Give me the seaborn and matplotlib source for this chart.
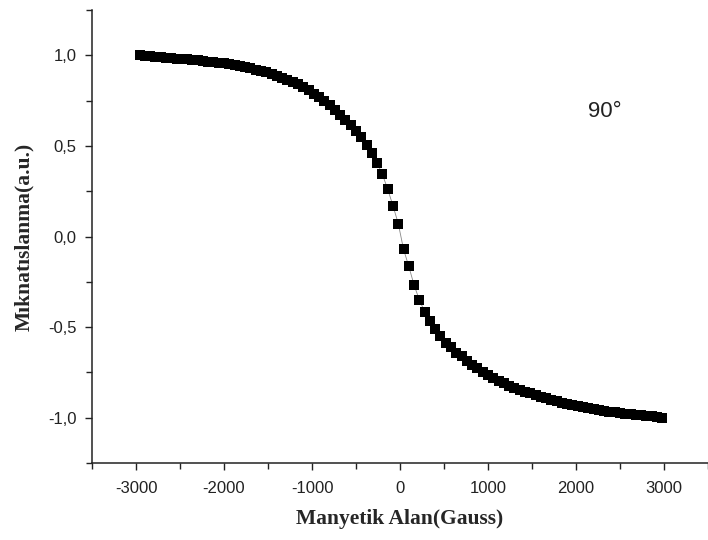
import matplotlib
matplotlib.use("Agg")
import matplotlib.pyplot as plt
from matplotlib.ticker import MultipleLocator, FuncFormatter
import seaborn as sns
import pandas as pd

# Applied field (Gauss) and normalised magnetisation (a.u.)
field = [-2960, -2900, -2840, -2780, -2720, -2660, -2600, -2540, -2480, -2420,
         -2360, -2300, -2240, -2180, -2120, -2060, -2000, -1940, -1880, -1820,
         -1760, -1700, -1640, -1580, -1520, -1460, -1400, -1340, -1280, -1220,
         -1160, -1100, -1040, -980, -920, -860, -800, -740, -680, -620,
         -560, -500, -440, -380, -320, -260, -200, -140, -80, -20,
         40, 100, 160, 220, 280, 340, 400, 460, 520, 580,
         640, 700, 760, 820, 880, 940, 1000, 1060, 1120, 1180,
         1240, 1300, 1360, 1420, 1480, 1540, 1600, 1660, 1720, 1780,
         1840, 1900, 1960, 2020, 2080, 2140, 2200, 2260, 2320, 2380,
         2440, 2500, 2560, 2620, 2680, 2740, 2800, 2860, 2920, 2980]
magnetisation = [1.000, 0.998, 0.995, 0.993, 0.990, 0.987, 0.986, 0.983, 0.980, 0.978,
                 0.976, 0.973, 0.970, 0.966, 0.963, 0.960, 0.956, 0.952, 0.948, 0.942,
                 0.936, 0.929, 0.922, 0.915, 0.907, 0.899, 0.889, 0.878, 0.867, 0.855,
                 0.840, 0.824, 0.808, 0.790, 0.770, 0.748, 0.725, 0.700, 0.673, 0.645,
                 0.616, 0.585, 0.548, 0.508, 0.462, 0.408, 0.343, 0.262, 0.170, 0.072,
                 -0.070, -0.165, -0.268, -0.350, -0.415, -0.465, -0.510, -0.550, -0.585, -0.612,
                 -0.640, -0.662, -0.685, -0.708, -0.728, -0.748, -0.765, -0.780, -0.796, -0.810,
                 -0.824, -0.836, -0.846, -0.856, -0.865, -0.874, -0.883, -0.892, -0.900, -0.908,
                 -0.916, -0.924, -0.930, -0.936, -0.942, -0.948, -0.953, -0.958, -0.962, -0.966,
                 -0.970, -0.974, -0.978, -0.981, -0.984, -0.987, -0.990, -0.993, -0.996, -0.999]

x_ticks = [-3000, -2000, -1000, 0, 1000, 2000, 3000]
y_ticks = [-1.0, -0.5, 0.0, 0.5, 1.0]
angle_label = "90°"

df = pd.DataFrame({"H": field, "M": magnetisation})

sns.set_style("ticks")
plt.rcParams["font.family"] = ["Liberation Sans", "DejaVu Sans"]

fig = plt.figure(figsize=(7.08, 5.4), dpi=100)
ax = fig.add_axes([0.130, 0.1426, 0.870, 0.8385])

sns.lineplot(data=df, x="H", y="M", ax=ax, color="#888888", linewidth=0.6,
             sort=False, zorder=2)
sns.scatterplot(data=df, x="H", y="M", ax=ax, marker="s", s=52,
                color="black", linewidth=0, zorder=3)

ax.set_xlim(-3500, 3500)
ax.set_ylim(-1.25, 1.25)
ax.set_xticks(x_ticks)
ax.set_yticks(y_ticks)
ax.xaxis.set_minor_locator(MultipleLocator(500))
ax.yaxis.set_minor_locator(MultipleLocator(0.25))
ax.xaxis.set_major_formatter(FuncFormatter(lambda v, p: f"{v:.0f}"))
ax.yaxis.set_major_formatter(FuncFormatter(lambda v, p: f"{v:.1f}".replace(".", ",")))

ax.tick_params(axis="both", which="major", direction="out", length=5, width=1,
               labelsize=12, colors="#222222", pad=6)
ax.tick_params(axis="both", which="minor", direction="out", length=4, width=1,
               colors="#222222")
ax.tick_params(axis="x", which="major", pad=8)

for side in ("top", "right"):
    ax.spines[side].set_visible(False)
for side in ("left", "bottom"):
    ax.spines[side].set_linewidth(1.1)
    ax.spines[side].set_color("#222222")

label_font = dict(family=["Liberation Serif", "DejaVu Serif"], weight="bold", size=15.5)
ax.set_xlabel("Manyetik Alan(Gauss)", labelpad=9, **label_font)
ax.set_ylabel("Mıknatıslanma(a.u.)", labelpad=10, **label_font)

ax.text(2136, 0.688, angle_label, fontsize=16, color="#222222", ha="left", va="center")

ax.grid(False)
fig.savefig("out.png", dpi=100)
